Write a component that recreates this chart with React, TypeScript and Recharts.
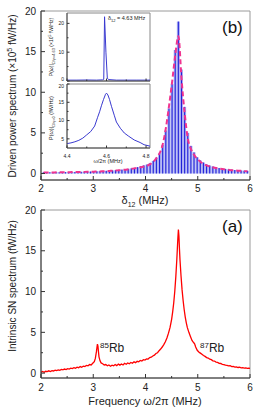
import { ComposedChart, LineChart, Line, Bar, XAxis, YAxis, ReferenceArea } from 'recharts';

const FONT = '"Liberation Sans", Arial, sans-serif';

// (b) driven power spectrum, x10^5 fW/Hz
const detuning = [
  2.05, 2.11, 2.17, 2.23, 2.29, 2.35, 2.41, 2.47, 2.53, 2.59,
  2.65, 2.71, 2.77, 2.83, 2.89, 2.95, 3.01, 3.07, 3.13, 3.19,
  3.25, 3.31, 3.37, 3.43, 3.49, 3.55, 3.61, 3.67, 3.73, 3.79,
  3.85, 3.91, 3.97, 4.03, 4.09, 4.15, 4.21, 4.27, 4.33, 4.39,
  4.45, 4.51, 4.57, 4.63, 4.69, 4.75, 4.81, 4.87, 4.93, 4.99,
  5.05, 5.11, 5.17, 5.23, 5.29, 5.35, 5.41, 5.47, 5.53, 5.59,
  5.65, 5.71, 5.77, 5.83, 5.89, 5.95,
];
const drivenBars = [
  0.14, 0.13, 0.15, 0.14, 0.16, 0.15, 0.17, 0.16, 0.18, 0.18,
  0.19, 0.2, 0.21, 0.22, 0.23, 0.24, 0.26, 0.27, 0.29, 0.31,
  0.33, 0.35, 0.38, 0.41, 0.44, 0.48, 0.52, 0.57, 0.63, 0.7,
  0.78, 0.88, 1.0, 1.1, 1.3, 1.55, 1.95, 2.5, 3.5, 5.3,
  8.0, 11.0, 15.2, 18.7, 12.8, 8.2, 5.0, 3.4, 2.6, 2.0,
  1.6, 1.35, 1.12, 0.98, 0.86, 0.76, 0.68, 0.61, 0.56, 0.51,
  0.47, 0.43, 0.4, 0.37, 0.35, 0.33,
];
const drivenEnvelope = [
  0.12, 0.12, 0.13, 0.13, 0.14, 0.14, 0.15, 0.15, 0.16, 0.17,
  0.17, 0.18, 0.19, 0.2, 0.21, 0.22, 0.23, 0.25, 0.26, 0.28,
  0.3, 0.32, 0.34, 0.37, 0.4, 0.43, 0.47, 0.52, 0.57, 0.63,
  0.7, 0.78, 0.86, 0.95, 1.15, 1.45, 1.9, 2.5, 3.6, 5.6,
  8.3, 11.3, 14.6, 16.9, 11.6, 7.4, 4.3, 3.0, 2.3, 1.8,
  1.45, 1.2, 1.0, 0.87, 0.76, 0.67, 0.6, 0.54, 0.49, 0.45,
  0.41, 0.38, 0.35, 0.33, 0.31, 0.29,
];

// (a) intrinsic spin-noise spectrum, fW/Hz
const snFreq = [
  2.0, 2.03, 2.06, 2.09, 2.12, 2.15, 2.18, 2.21, 2.24, 2.27,
  2.3, 2.33, 2.36, 2.39, 2.42, 2.45, 2.48, 2.51, 2.54, 2.57,
  2.6, 2.63, 2.66, 2.69, 2.72, 2.75, 2.78, 2.81, 2.84, 2.87,
  2.9, 2.93, 2.96, 2.99, 3.02, 3.04, 3.06, 3.07, 3.08, 3.09,
  3.1, 3.11, 3.13, 3.15, 3.18, 3.21, 3.24, 3.27, 3.3, 3.33,
  3.36, 3.39, 3.42, 3.45, 3.48, 3.51, 3.54, 3.57, 3.6, 3.63,
  3.66, 3.69, 3.72, 3.75, 3.78, 3.81, 3.84, 3.87, 3.9, 3.93,
  3.96, 3.99, 4.02, 4.05, 4.08, 4.11, 4.14, 4.17, 4.2, 4.23,
  4.26, 4.29, 4.32, 4.35, 4.38, 4.41, 4.44, 4.47, 4.5, 4.52,
  4.54, 4.56, 4.58, 4.6, 4.61, 4.62, 4.63, 4.64, 4.65, 4.66,
  4.68, 4.7, 4.72, 4.74, 4.76, 4.78, 4.8, 4.83, 4.86, 4.89,
  4.92, 4.94, 4.96, 4.99, 5.02, 5.05, 5.08, 5.11, 5.14, 5.17,
  5.2, 5.23, 5.26, 5.29, 5.32, 5.35, 5.38, 5.41, 5.44, 5.47,
  5.5, 5.53, 5.56, 5.59, 5.62, 5.65, 5.68, 5.71, 5.74, 5.77,
  5.8, 5.83, 5.86, 5.89, 5.92, 5.95, 5.98, 6.0,
];
const snValue = [
  0.12, 0.2, 0.1, 0.22, 0.18, 0.28, 0.2, 0.3, 0.26, 0.36,
  0.3, 0.4, 0.34, 0.45, 0.4, 0.5, 0.44, 0.55, 0.5, 0.6,
  0.55, 0.66, 0.6, 0.72, 0.66, 0.8, 0.72, 0.86, 0.8, 0.95,
  0.9, 1.05, 1.0, 1.2, 1.4, 1.8, 2.6, 3.1, 3.55, 3.3,
  2.6, 2.0, 1.5, 1.25, 1.15, 1.0, 1.05, 0.9, 1.0, 0.85,
  0.98, 0.9, 1.05, 0.92, 1.1, 0.98, 1.12, 1.0, 1.2, 1.08,
  1.25, 1.15, 1.3, 1.2, 1.38, 1.28, 1.45, 1.38, 1.55, 1.48,
  1.65, 1.6, 1.75, 1.72, 1.9, 1.95, 2.1, 2.2, 2.4, 2.5,
  2.75, 2.95, 3.2, 3.5, 3.85, 4.3, 4.9, 5.6, 6.6, 7.5,
  8.6, 10.0, 11.8, 14.0, 15.3, 16.6, 17.6, 16.8, 15.2, 13.9,
  11.9, 10.2, 8.9, 7.8, 6.9, 6.2, 5.6, 5.0, 4.5, 4.0,
  3.75, 3.6, 3.2, 2.8, 2.6, 2.45, 2.3, 2.15, 2.05, 1.9,
  1.85, 1.7, 1.65, 1.5, 1.48, 1.35, 1.32, 1.2, 1.18, 1.08,
  1.05, 0.97, 0.96, 0.88, 0.9, 0.8, 0.83, 0.74, 0.77, 0.69,
  0.72, 0.65, 0.67, 0.62, 0.64, 0.58, 0.6, 0.57,
];

// insets
const insetTopFreq = [4.4, 4.45, 4.5, 4.55, 4.58, 4.586, 4.59, 4.597, 4.604, 4.61, 4.65, 4.7, 4.75, 4.8, 4.82];
const insetTopValue = [0.3, 0.3, 0.35, 0.3, 0.4, 0.6, 22.3, 10, 1.0, 0.5, 0.3, 0.3, 0.3, 0.3, 0.3];
const insetBottomFreq = [
  4.4, 4.42, 4.44, 4.46, 4.48, 4.5, 4.52, 4.54, 4.555, 4.565,
  4.575, 4.585, 4.595, 4.6, 4.607, 4.615, 4.625, 4.64, 4.65, 4.67,
  4.69, 4.71, 4.74, 4.77, 4.79, 4.82,
];
const insetBottomValue = [
  3.7, 3.9, 4.2, 4.6, 5.2, 6.1, 7.0, 8.5, 10.9, 12.4,
  14.2, 15.8, 17.2, 17.5, 17.0, 15.8, 13.9, 11.3, 9.6, 7.9,
  6.6, 5.8, 4.7, 4.0, 3.4, 3.0,
];

const mainXTicks = [2, 2.5, 3, 3.5, 4, 4.5, 5, 5.5, 6];
const mainXLabels = [2, 3, 4, 5, 6];
const mainYTicks = [0, 2.5, 5, 7.5, 10, 12.5, 15, 17.5, 20];
const mainYLabels = [0, 5, 10, 15, 20];
const insetXTicks = [4.4, 4.5, 4.6, 4.7, 4.8];
const insetXLabels = [4.4, 4.6, 4.8];
const insetTopYTicks = [0, 5, 10, 15, 20];
const insetTopYLabels = [0, 10, 20];
const insetBottomYTicks = [5, 7.5, 10, 12.5, 15, 17.5, 20];
const insetBottomYLabels = [5, 10, 15, 20];

const drivenData = detuning.map((f, i) => ({ f, bar: drivenBars[i], env: drivenEnvelope[i] }));
const snData = snFreq.map((f, i) => ({ f, v: snValue[i] }));
const insetTopData = insetTopFreq.map((f, i) => ({ f, v: insetTopValue[i] }));
const insetBottomData = insetBottomFreq.map((f, i) => ({ f, v: insetBottomValue[i] }));

type TickOpts = {
  labels: number[];
  majors: number[];
  size: number;
  major: number;
  minor: number;
  gap: number;
  showText: boolean;
  nudge?: Record<string, number>;
};

// ticks point inward, like the Origin plots
function bottomTick(o: TickOpts) {
  return (props: any) => {
    const { x, y, payload } = props;
    const v = payload.value;
    const isMajor = o.majors.includes(v);
    return (
      <g>
        <line x1={x} x2={x} y1={y} y2={y - (isMajor ? o.major : o.minor)} stroke="#333" strokeWidth={1} />
        {o.showText && o.labels.includes(v) && (
          <text x={x} y={y + o.gap} textAnchor="middle" fontSize={o.size} fontFamily={FONT} fill="#222">
            {v}
          </text>
        )}
      </g>
    );
  };
}

function leftTick(o: TickOpts) {
  return (props: any) => {
    const { x, y, payload } = props;
    const v = payload.value;
    const isMajor = o.majors.includes(v);
    const dy = o.nudge?.[String(v)] ?? 0;
    return (
      <g>
        <line x1={x} x2={x + (isMajor ? o.major : o.minor)} y1={y} y2={y} stroke="#333" strokeWidth={1} />
        {o.labels.includes(v) && (
          <text x={x - o.gap} y={y + o.size * 0.36 + dy} textAnchor="end" fontSize={o.size} fontFamily={FONT} fill="#222">
            {v}
          </text>
        )}
      </g>
    );
  };
}

function DrivenBar(props: any) {
  const { x, y, width, height } = props;
  if (!height || height <= 0) return <g />;
  return (
    <g>
      <rect x={x} y={y} width={width} height={height} fill="#a9adf2" />
      <rect x={x + width / 2 - 0.5} y={y} width={1} height={height} fill="#1f1fd8" />
    </g>
  );
}

const abs = (left: number, top: number, extra: any = {}) => ({ position: 'absolute' as const, left, top, ...extra });
const vertical = (cx: number, cy: number, fontSize: number) =>
  abs(cx, cy, {
    transform: 'translate(-50%, -50%) rotate(-90deg)',
    whiteSpace: 'nowrap',
    fontSize,
    lineHeight: 1,
    color: '#222',
  });

export default function App() {
  return (
    <div style={{ position: 'absolute', left: 0, top: 0, width: 264, height: 412, background: '#fff', fontFamily: FONT, overflow: 'hidden' }}>
      <div style={abs(0, 0)}>
        <ComposedChart width={264} height={206} data={drivenData} margin={{ top: 11, right: 14, left: 0, bottom: 0 }}>
          <ReferenceArea x1={2} x2={6} y1={-0.8} y2={20} fill="none" stroke="#9a9a9a" ifOverflow="visible" />
          <XAxis
            dataKey="f"
            type="number"
            domain={[2, 6]}
            ticks={mainXTicks}
            interval={0}
            allowDataOverflow
            height={26}
            tickSize={0}
            tickMargin={0}
            tickLine={false}
            axisLine={{ stroke: '#333' }}
            tick={bottomTick({ labels: mainXLabels, majors: mainXLabels, size: 10, major: 4, minor: 2, gap: 11.5, showText: true })}
          />
          <YAxis
            type="number"
            domain={[-0.8, 20]}
            ticks={mainYTicks}
            interval={0}
            allowDataOverflow
            width={41}
            tickSize={0}
            tickMargin={0}
            tickLine={false}
            axisLine={{ stroke: '#333' }}
            tick={leftTick({ labels: mainYLabels, majors: mainYLabels, size: 10, major: 4, minor: 2, gap: 5, showText: true })}
          />
          <Bar dataKey="bar" barSize={3} shape={DrivenBar} isAnimationActive={false} />
          <Line dataKey="env" type="monotone" stroke="#f0338f" strokeWidth={2} strokeDasharray="5 3" dot={false} isAnimationActive={false} />
        </ComposedChart>
      </div>

      <div style={abs(0, 199)}>
        <LineChart width={264} height={205} data={snData} margin={{ top: 11, right: 14, left: 0, bottom: 0 }}>
          <ReferenceArea x1={2} x2={6} y1={-0.6} y2={20} fill="none" stroke="#9a9a9a" ifOverflow="visible" />
          <XAxis
            dataKey="f"
            type="number"
            domain={[2, 6]}
            ticks={mainXTicks}
            interval={0}
            allowDataOverflow
            height={26}
            tickSize={0}
            tickMargin={0}
            tickLine={false}
            axisLine={{ stroke: '#333' }}
            tick={bottomTick({ labels: mainXLabels, majors: mainXLabels, size: 10, major: 4, minor: 2, gap: 12.5, showText: true })}
          />
          <YAxis
            type="number"
            domain={[-0.6, 20]}
            ticks={mainYTicks}
            interval={0}
            allowDataOverflow
            width={41}
            tickSize={0}
            tickMargin={0}
            tickLine={false}
            axisLine={{ stroke: '#333' }}
            tick={leftTick({ labels: mainYLabels, majors: mainYLabels, size: 10, major: 4, minor: 2, gap: 5, showText: true })}
          />
          <Line dataKey="v" type="linear" stroke="#ff0000" strokeWidth={1.3} dot={false} isAnimationActive={false} />
        </LineChart>
      </div>

      <div style={abs(40, 8)}>
        <LineChart width={114} height={76} data={insetTopData} margin={{ top: 5, right: 4, left: 0, bottom: 0 }}>
          <ReferenceArea x1={4.4} x2={4.82} y1={0} y2={23.6} fill="#fff" fillOpacity={1} stroke="#888" ifOverflow="visible" />
          <XAxis
            dataKey="f"
            type="number"
            domain={[4.4, 4.82]}
            ticks={insetXTicks}
            interval={0}
            allowDataOverflow
            height={3}
            tickSize={0}
            tickMargin={0}
            tickLine={false}
            axisLine={{ stroke: '#555' }}
            tick={bottomTick({ labels: [], majors: insetXLabels, size: 5, major: 2.5, minor: 1.5, gap: 6, showText: false })}
          />
          <YAxis
            type="number"
            domain={[0, 23.6]}
            ticks={insetTopYTicks}
            interval={0}
            allowDataOverflow
            width={27}
            tickSize={0}
            tickMargin={0}
            tickLine={false}
            axisLine={{ stroke: '#555' }}
            tick={leftTick({ labels: insetTopYLabels, majors: insetTopYLabels, size: 5, major: 2.5, minor: 1.5, gap: 3, showText: true, nudge: { '0': -1.8 } })}
          />
          <Line dataKey="v" type="linear" stroke="#3a3ad0" strokeWidth={1} dot={false} isAnimationActive={false} />
        </LineChart>
      </div>

      <div style={abs(40, 79)}>
        <LineChart width={114} height={87} data={insetBottomData} margin={{ top: 5, right: 4, left: 0, bottom: 0 }}>
          <ReferenceArea x1={4.4} x2={4.82} y1={2.5} y2={20} fill="#fff" fillOpacity={1} stroke="#888" ifOverflow="visible" />
          <XAxis
            dataKey="f"
            type="number"
            domain={[4.4, 4.82]}
            ticks={insetXTicks}
            interval={0}
            allowDataOverflow
            height={18}
            tickSize={0}
            tickMargin={0}
            tickLine={false}
            axisLine={{ stroke: '#555' }}
            tick={bottomTick({ labels: insetXLabels, majors: insetXLabels, size: 5, major: 2.5, minor: 1.5, gap: 9.5, showText: true })}
          />
          <YAxis
            type="number"
            domain={[2.5, 20]}
            ticks={insetBottomYTicks}
            interval={0}
            allowDataOverflow
            width={27}
            tickSize={0}
            tickMargin={0}
            tickLine={false}
            axisLine={{ stroke: '#555' }}
            tick={leftTick({ labels: insetBottomYLabels, majors: insetBottomYLabels, size: 5, major: 2.5, minor: 1.5, gap: 3, showText: true, nudge: { '20': 1.8 } })}
          />
          <Line dataKey="v" type="linear" stroke="#3a3ad0" strokeWidth={1} dot={false} isAnimationActive={false} />
        </LineChart>
      </div>

      {/* titles and annotations */}
      <div style={vertical(13, 96, 10)}>
        Driven power spectrum (×10<span style={{ fontSize: 7, position: 'relative', top: -4 }}>5</span> fW/Hz)
      </div>
      <div style={vertical(13, 286, 10)}>Intrinsic SN spectrum (fW/Hz)</div>
      <div style={abs(145, 195, { transform: 'translateX(-50%)', fontSize: 11, lineHeight: 1, whiteSpace: 'nowrap', color: '#222' })}>
        δ<span style={{ fontSize: 7, position: 'relative', top: 3 }}>12</span> (MHz)
      </div>
      <div style={abs(145, 396, { transform: 'translateX(-50%)', fontSize: 11, lineHeight: 1, whiteSpace: 'nowrap', color: '#222' })}>
        Frequency ω/2π (MHz)
      </div>
      <div style={abs(222, 19, { fontSize: 17, lineHeight: 1, color: '#111' })}>(b)</div>
      <div style={abs(222, 218, { fontSize: 17, lineHeight: 1, color: '#111' })}>(a)</div>
      <div style={abs(100, 342, { fontSize: 12, lineHeight: 1, whiteSpace: 'nowrap', color: '#222' })}>
        <span style={{ fontSize: 8, position: 'relative', top: -4 }}>85</span>Rb
      </div>
      <div style={abs(200, 342, { fontSize: 12, lineHeight: 1, whiteSpace: 'nowrap', color: '#222' })}>
        <span style={{ fontSize: 8, position: 'relative', top: -4 }}>87</span>Rb
      </div>

      <div style={abs(108, 16, { fontSize: 5.5, lineHeight: 1, whiteSpace: 'nowrap', color: '#222' })}>
        δ<span style={{ fontSize: 4, position: 'relative', top: 1.5 }}>12</span> = 4.63 MHz
      </div>
      <div style={vertical(52, 47, 5)}>
        P(ω)|<span style={{ fontSize: 4, position: 'relative', top: 1.5 }}>Ω/γ=4.63</span> (×10<span style={{ fontSize: 3.5, position: 'relative', top: -2 }}>5</span> fW/Hz)
      </div>
      <div style={vertical(52, 118, 5.5)}>
        P(ω)|<span style={{ fontSize: 4, position: 'relative', top: 1.5 }}>Ω/γ=0</span> (fW/Hz)
      </div>
      <div style={abs(108, 159, { transform: 'translateX(-50%)', fontSize: 5.5, lineHeight: 1, whiteSpace: 'nowrap', color: '#222' })}>
        ω/2π (MHz)
      </div>
    </div>
  );
}
